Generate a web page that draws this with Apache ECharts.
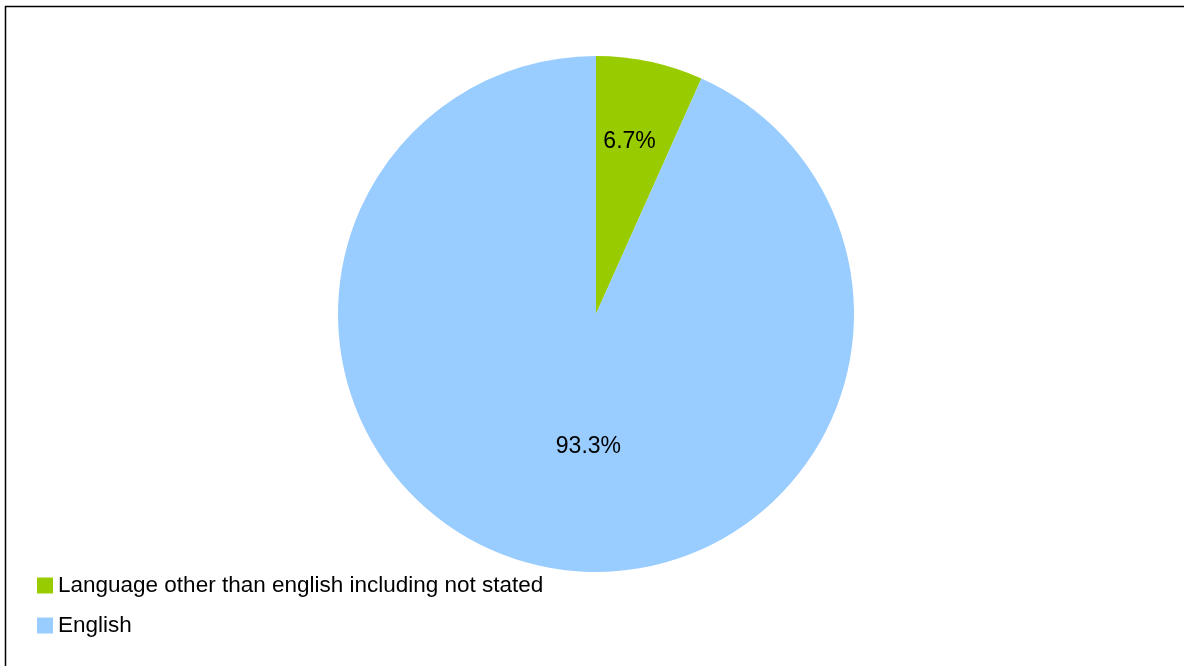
<!DOCTYPE html>
<html>
<head>
<meta charset="utf-8">
<title>Language spoken at home</title>
<script src="https://cdn.jsdelivr.net/npm/echarts@6/dist/echarts.min.js"></script>
<style>
    html, body {
        margin: 0;
        padding: 0;
        background: #ffffff;
    }
    #chart {
        width: 1184px;
        height: 666px;
    }
</style>
</head>
<body>
<div id="chart"></div>
<script>
// data
const categories = ['Language other than english including not stated', 'English'];
const shares = [6.7, 93.3];
const sliceColors = ['#99cc00', '#99ccff'];
// nudges to put the inside labels where the original has them
const labelShift = [[6, -43], [20, 4]];

const chart = echarts.init(document.getElementById('chart'));

let option = {
    animation: false,
    textStyle: {
        fontFamily: '"Liberation Sans", Arial, sans-serif'
    },
    color: sliceColors,
    graphic: [
        {
            type: 'rect',
            silent: true,
            shape: { x: 5.5, y: 6.5, width: 2000, height: 2000 },
            style: { fill: 'none', stroke: '#000000', lineWidth: 1.5 }
        }
    ],
    legend: {
        orient: 'vertical',
        left: 37,
        top: 574,
        padding: 0,
        itemWidth: 16,
        itemHeight: 16,
        itemGap: 17,
        icon: 'rect',
        selectedMode: false,
        data: categories,
        textStyle: {
            color: '#000000',
            fontSize: 22.5
        }
    },
    series: [
        {
            type: 'pie',
            center: [596, 314],
            radius: 258,
            startAngle: 90,
            clockwise: true,
            avoidLabelOverlap: false,
            itemStyle: {
                borderWidth: 0
            },
            label: {
                show: true,
                position: 'inside',
                color: '#000000',
                fontSize: 23,
                formatter: p => p.value.toFixed(1) + '%'
            },
            labelLine: { show: false },
            labelLayout: p => ({ dx: labelShift[p.dataIndex][0], dy: labelShift[p.dataIndex][1] }),
            emphasis: { disabled: true },
            data: categories.map((name, i) => ({ name: name, value: shares[i] }))
        }
    ]
};

option && chart.setOption(option);
</script>
</body>
</html>
